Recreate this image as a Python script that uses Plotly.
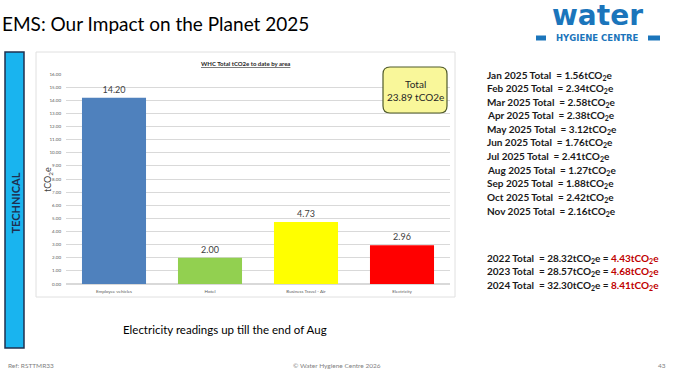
import plotly.graph_objects as go

W, H = 674, 376

categories = ["Employee vehicles", "Hotel", "Business Travel - Air", "Electricity"]
values = [14.20, 2.00, 4.73, 2.96]
bar_colors = ["#4f81bd", "#92d050", "#ffff00", "#ff0000"]

months = ["Jan", "Feb", "Mar", "Apr", "May", "Jun", "Jul", "Aug", "Sep", "Oct", "Nov"]
month_totals = [1.56, 2.34, 2.58, 2.38, 3.12, 1.76, 2.41, 1.27, 1.88, 2.42, 2.16]

years = [2022, 2023, 2024]
year_totals = [28.32, 28.57, 32.30]
year_diffs = [4.43, 4.68, 8.41]

grand_total = 23.89


def px(x):
    return x / W


def py(y):
    return 1 - y / H


FONT = "Lato"

fig = go.Figure()
fig.add_trace(go.Bar(
    x=categories, y=values,
    marker=dict(color=bar_colors, line=dict(width=0)),
    texttemplate="%{y:.2f}", textposition="outside",
    textfont=dict(size=9, color="#404040", family=FONT),
    cliponaxis=False, width=0.667,
))

fig.update_layout(
    width=W, height=H,
    margin=dict(l=0, r=0, t=0, b=0, autoexpand=False),
    paper_bgcolor="white", plot_bgcolor="white",
    showlegend=False,
    font=dict(family=FONT),
    xaxis=dict(domain=[px(66), px(450)], showgrid=False, showline=False,
               tickfont=dict(size=4.5, color="#595959"), ticks="",
               ticklabelstandoff=3, automargin=False),
    yaxis=dict(domain=[py(284), py(74)], range=[0, 16], dtick=1, tickformat=".2f",
               tickfont=dict(size=4.5, color="#595959"), gridcolor="#d9d9d9",
               gridwidth=1, zeroline=True, zerolinecolor="#d9d9d9", showline=False,
               ticks="", ticklabelstandoff=4, automargin=False),
)

shapes = []
# chart frame
shapes.append(dict(type="rect", xref="paper", yref="paper",
                   x0=px(36), x1=px(455), y0=py(297), y1=py(52),
                   line=dict(color="#e0e0e0", width=1), fillcolor="rgba(0,0,0,0)", layer="below"))
# side bar
shapes.append(dict(type="rect", xref="paper", yref="paper",
                   x0=px(5), x1=px(24), y0=py(348), y1=py(52),
                   line=dict(color="#1f3050", width=1.5), fillcolor="#19b4ef"))
# total box (rounded)
x0, x1, y0, y1, r = 383, 447, 67, 113, 7
path = (f"M {px(x0+r)},{py(y0)} L {px(x1-r)},{py(y0)} Q {px(x1)},{py(y0)} {px(x1)},{py(y0+r)} "
        f"L {px(x1)},{py(y1-r)} Q {px(x1)},{py(y1)} {px(x1-r)},{py(y1)} "
        f"L {px(x0+r)},{py(y1)} Q {px(x0)},{py(y1)} {px(x0)},{py(y1-r)} "
        f"L {px(x0)},{py(y0+r)} Q {px(x0)},{py(y0)} {px(x0+r)},{py(y0)} Z")
shapes.append(dict(type="path", xref="paper", yref="paper", path=path,
                   line=dict(color="#4f5a2a", width=1.2), fillcolor="#f9f79a"))
# logo squares
for a, b in [(536, 546), (648, 660)]:
    shapes.append(dict(type="rect", xref="paper", yref="paper",
                       x0=px(a), x1=px(b), y0=py(40.5), y1=py(35.5),
                       line=dict(width=0), fillcolor="#1b75bb"))
fig.update_layout(shapes=shapes)


def ann(text, x, y, size, color="#000000", xanchor="left", angle=0, family=FONT):
    fig.add_annotation(text=text, x=px(x), y=py(y), xref="paper", yref="paper",
                       xanchor=xanchor, yanchor="middle", showarrow=False,
                       textangle=angle, borderpad=0,
                       font=dict(size=size, color=color, family=family))


ann("EMS: Our Impact on the Planet 2025", 1, 23, 19, "#000000")
ann("<b>water</b>", 597, 16, 28, "#1b75bb", xanchor="center", family="DejaVu Sans")
ann("<b>HYGIENE CENTRE</b>", 597, 38.5, 8.5, "#1b75bb", xanchor="center", family="DejaVu Sans")
ann("<b>TECHNICAL</b>", 14.5, 203, 11, "#1f2f50", xanchor="center", angle=-90)
ann("<b><u>WHC Total tCO2e to date by area</u></b>", 245, 63, 6, "#262626", xanchor="center")
ann("tCO<sub>2</sub>e", 48, 180, 9, "#404040", xanchor="center", angle=-90)
ann(f"Total<br>{grand_total:.2f} tCO2e", 415, 90, 10, "#262626", xanchor="center")

for i, (m, v) in enumerate(zip(months, month_totals)):
    ann(f"<b>{m} 2025 Total  = {v:.2f}tCO<sub>2</sub>e</b>", 486, 75 + i * 13.6, 10, "#1a1a1a")

for i, (yr, t, d) in enumerate(zip(years, year_totals, year_diffs)):
    ann(f"<b>{yr} Total  = {t:.2f}tCO<sub>2</sub>e = <span style='color:#c00000'>{d:.2f}tCO<sub>2</sub>e</span></b>",
        486, 258 + i * 13.6, 10, "#1a1a1a")

ann("Electricity readings up till the end of Aug", 122, 329, 11.5, "#000000")
ann("Ref: RSTTMR33", 7, 365, 6.5, "#7f7f7f")
ann("© Water Hygiene Centre 2026", 337, 365, 6.5, "#7f7f7f", xanchor="center")
ann("43", 667, 365, 6.5, "#7f7f7f", xanchor="right")

fig.write_html("out.html", config={"displayModeBar": False},
               post_script="document.body.style.margin='0px';")
